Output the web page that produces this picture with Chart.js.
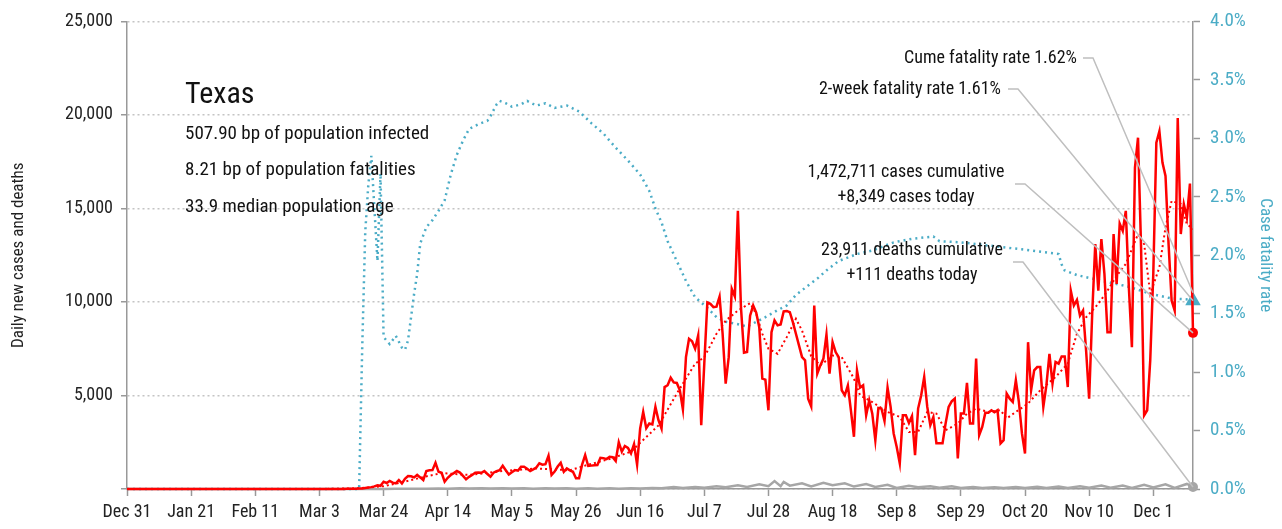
<!DOCTYPE html>
<html>
<head>
<meta charset="utf-8">
<script src="https://cdn.jsdelivr.net/npm/chart.js@4.4.0/dist/chart.umd.min.js"></script>
<style>
  body { margin: 0; background: #fff; }
  #wrap { width: 1282px; height: 529px; }
</style>
</head>
<body>
<div id="wrap"><canvas id="myChart" width="1282" height="529"></canvas></div>
<script>
// x axis is days since Dec 31, one label every 3 weeks
var tickLabels = ["Dec 31", "Jan 21", "Feb 11", "Mar 3", "Mar 24", "Apr 14", "May 5", "May 26",
  "Jun 16", "Jul 7", "Jul 28", "Aug 18", "Sep 8", "Sep 29", "Oct 20", "Nov 10", "Dec 1"]
var tickStep = 21
var lastDay = 349

// daily new cases, day 0 (Dec 31) to day 349
var cases = [
  0, 0, 0, 0, 0, 0, 0, 0, 0, 0, 0, 0, 0, 0, 0, 0,
  0, 0, 0, 0, 0, 0, 0, 0, 0, 0, 0, 0, 0, 0, 0, 0,
  0, 0, 0, 0, 0, 0, 0, 0, 0, 0, 0, 0, 0, 0, 0, 0,
  0, 0, 0, 0, 0, 0, 0, 0, 0, 0, 0, 0, 0, 0, 0, 0,
  1, 0, 1, 1, 2, 3, 2, 5, 7, 10, 15, 20, 25, 30, 55, 75, 100, 140, 200, 170,
  390, 320, 430, 340, 300, 480, 300, 550, 690, 680,
  620, 750, 620, 480, 960, 1000, 1010, 1400, 920, 870,
  390, 600, 750, 850, 960, 880, 700, 520, 650, 750,
  870, 880, 870, 960, 800, 660, 870, 950, 1010, 1240,
  1000, 780, 900, 1010, 980, 1190, 1190, 1080, 960, 1050,
  1150, 1370, 1300, 1330, 1780, 750, 930, 1200, 1400, 920,
  1100, 1000, 920, 570, 570, 1300, 1810, 1230, 1250, 1270,
  1280, 1670, 1650, 1600, 1720, 1700, 1500, 2500, 2000, 2300,
  2200, 1900, 2400, 1300, 3230, 4120, 3250, 3500, 3450, 4390,
  3680, 3230, 5450, 5550, 5950, 5700, 5670, 5280, 4250, 7050,
  8030, 7900, 7500, 8210, 3410, 6700, 9980, 9900, 9720, 9750,
  10290, 8300, 5630, 7050, 10700, 10290, 14870, 9720, 7290, 7330,
  9270, 9810, 9430, 8650, 5900, 5850, 4210, 8380, 9010, 8750,
  8800, 9500, 9520, 9450, 8920, 8300, 7680, 7050, 6880, 4830,
  4420, 9810, 6170, 6610, 6970, 8260, 6170, 7850, 7320, 7050,
  5280, 5010, 5540, 4200, 2790, 6340, 5420, 5540, 3940, 4740,
  4030, 2610, 4330, 4300, 3640, 5420, 4390, 2970, 2250, 1370,
  3940, 3940, 3530, 3900, 1810, 4300, 5000, 5990, 4390, 3410,
  3850, 2440, 2440, 2440, 3500, 4390, 4690, 4830, 1640, 4030,
  4030, 5670, 3500, 3500, 6970, 2880, 3320, 4070, 4070, 4210,
  4100, 4210, 2440, 2610, 5100, 4830, 4650, 5810, 4650, 2970,
  1900, 7850, 5280, 6340, 6520, 6520, 4390, 5540, 7230, 5630,
  6790, 6700, 7090, 7090, 5450, 10600, 9810, 10110, 9270, 9540,
  7410, 4830, 9360, 13100, 10600, 13360, 11500, 8380, 8380, 13630,
  10960, 14190, 13800, 14870, 10780, 7580, 17180, 18780, 12910, 3940,
  4210, 6880, 11500, 18510, 19130, 17450, 16740, 13100, 10070, 9540,
  19840, 13630, 15230, 14510, 16330, 8349
]

// 7-day average of cases, read at these days
var avgDays = [0, 64, 76, 84, 90, 97, 103, 112, 123, 134, 145, 151, 158, 165, 174, 180, 186, 189, 193, 196,
  200, 204, 206, 208, 210, 213, 216, 219, 221, 224, 227, 231, 234, 238, 240, 244, 249, 253, 256, 259,
  262, 265, 268, 272, 275, 278, 282, 286, 288, 291, 295, 299, 304, 308, 311, 314, 318, 321, 324, 327,
  331, 333, 335, 338, 340, 342, 345, 347, 349]
var avgCases = [0, 0, 40, 150, 350, 640, 850, 750, 960, 1100, 1000, 1300, 1600, 2000, 3400, 5100, 6700, 7050, 8300, 9000,
  9540, 9930, 9370, 8300, 7500, 7230, 8120, 9100, 8470, 7100, 6610, 7140, 7050, 5900, 5010, 4650, 4120, 3850, 3050, 3050,
  4120, 4030, 3140, 3500, 4030, 4300, 4120, 4210, 3770, 4120, 4570, 5280, 5990, 6700, 8300, 9180, 9900, 10600, 11400, 12030,
  13630, 13100, 10430, 11850, 13980, 15400, 15230, 14160, 13900]

// case fatality rate (%), right axis
var rateDays = [0, 76, 77, 78, 79, 80, 81, 82, 83, 84, 86, 88, 90, 91, 92, 93, 94, 95, 96, 98,
  100, 102, 104, 106, 108, 110, 112, 115, 118, 119, 121, 122, 124, 126, 129, 131, 134, 137, 140, 144,
  148, 152, 156, 160, 164, 168, 171, 173, 175, 177, 180, 183, 186, 190, 193, 196, 200, 203, 206, 209,
  213, 216, 219, 223, 226, 229, 233, 239, 244, 251, 257, 264, 266, 273, 283, 293, 305, 306, 307, 311,
  321, 328, 335, 342, 348, 349]
var rate = [0, 0, 1.2, 2.2, 2.6, 2.85, 2.4, 1.95, 2.7, 1.3, 1.24, 1.31, 1.21, 1.19, 1.27, 1.47, 1.67, 1.84, 2.1, 2.24,
  2.30, 2.38, 2.47, 2.69, 2.86, 2.98, 3.08, 3.12, 3.15, 3.19, 3.29, 3.32, 3.30, 3.27, 3.29, 3.32, 3.28, 3.30, 3.26, 3.28,
  3.23, 3.13, 3.04, 2.92, 2.81, 2.69, 2.55, 2.40, 2.28, 2.12, 1.95, 1.78, 1.64, 1.55, 1.47, 1.43, 1.41, 1.39, 1.43, 1.47,
  1.53, 1.57, 1.66, 1.74, 1.80, 1.87, 1.95, 2.01, 2.04, 2.11, 2.14, 2.16, 2.12, 2.11, 2.08, 2.05, 2.01, 1.92, 1.87, 1.83,
  1.77, 1.73, 1.67, 1.63, 1.62, 1.61]

// daily deaths, read at these days
var deathDays = [0, 76, 80, 84, 88, 91, 95, 98, 102, 105, 109, 112, 116, 119, 123, 126, 130, 133, 137, 140,
  144, 147, 151, 154, 158, 161, 165, 168, 172, 175, 179, 182, 186, 189, 193, 196, 200, 203, 207, 210,
  212, 214, 215, 217, 221, 224, 228, 231, 235, 238, 242, 245, 249, 252, 256, 259, 263, 266, 270, 273,
  277, 280, 284, 287, 291, 294, 298, 301, 305, 308, 312, 315, 319, 322, 326, 329, 333, 336, 340, 343,
  347, 349]
var deaths = [0, 0, 2, 5, 8, 12, 20, 15, 30, 20, 35, 25, 40, 25, 45, 30, 45, 20, 40, 25,
  35, 20, 35, 15, 40, 20, 45, 25, 50, 40, 100, 50, 110, 70, 150, 90, 200, 110, 250, 150,
  420, 150, 380, 180, 310, 140, 330, 200, 300, 130, 260, 110, 230, 60, 170, 90, 150, 70, 140, 60,
  110, 60, 100, 60, 110, 50, 120, 60, 130, 60, 150, 70, 190, 70, 180, 50, 230, 80, 250, 60,
  270, 111]

var stateName = "Texas"
var stateFacts = ["507.90 bp of population infected", "8.21 bp of population fatalities", "33.9 median population age"]

var red = "#ff0000"
var blue = "#4bacc6"
var grey = "#a6a6a6"
var fam = "'Roboto Condensed', Roboto, sans-serif"

function pts(days, vals) {
  return vals.map(function(v, i) { return {x: days[i], y: v} })
}
function dailyPts(vals) {
  return vals.map(function(v, i) { return {x: i, y: v} })
}
function endOnly(r) {
  return function(ctx) { return ctx.dataIndex === ctx.dataset.data.length - 1 ? r : 0 }
}

var notes = [
  {lines: ["Cume fatality rate 1.62%"], x: 1077, y: 58, align: "right", ds: 2, lead: [1083, 58, 1093, 58], dy: -8},
  {lines: ["2-week fatality rate 1.61%"], x: 1001, y: 89, align: "right", ds: 2, lead: [1008, 89, 1018, 89], dy: 0},
  {lines: ["1,472,711 cases cumulative", "+8,349 cases today"], x: 906, y: 172, align: "center", ds: 0, lead: [1015, 184, 1025, 184], dy: 0},
  {lines: ["23,911 deaths cumulative", "+111 deaths today"], x: 912, y: 250, align: "center", ds: 3, lead: [1013, 262, 1023, 262], dy: 0}
]

var textPlugin = {
  id: "texts",
  afterDatasetsDraw: function(chart) {
    var ctx = chart.ctx
    ctx.save()
    ctx.fillStyle = "#111"
    ctx.textBaseline = "middle"
    ctx.textAlign = "left"
    ctx.font = "30px " + fam
    ctx.fillText(stateName, 185, 95)
    ctx.font = "19px " + fam
    stateFacts.forEach(function(t, i) { ctx.fillText(t, 185, 134 + i * 36.5) })

    notes.forEach(function(n) {
      var meta = chart.getDatasetMeta(n.ds)
      var p = meta.data[meta.data.length - 1]
      ctx.strokeStyle = "#bfbfbf"
      ctx.lineWidth = 1.5
      ctx.beginPath()
      ctx.moveTo(n.lead[0], n.lead[1])
      ctx.lineTo(n.lead[2], n.lead[3])
      ctx.lineTo(p.x, p.y + n.dy)
      ctx.stroke()
      ctx.fillStyle = "#111"
      ctx.font = "18px " + fam
      ctx.textAlign = n.align
      n.lines.forEach(function(t, i) { ctx.fillText(t, n.x, n.y + i * 25) })
    })
    ctx.restore()
  }
}

var chart = new Chart(document.getElementById("myChart").getContext("2d"), {
  type: "line",
  data: {
    datasets: [
      {
        label: "Daily new cases",
        data: dailyPts(cases),
        yAxisID: "y",
        borderColor: red,
        backgroundColor: red,
        borderWidth: 2.5,
        pointRadius: endOnly(5),
        pointBorderWidth: 0,
        pointHoverRadius: 0,
        clip: false
      },
      {
        label: "7-day average",
        data: pts(avgDays, avgCases),
        yAxisID: "y",
        borderColor: red,
        borderWidth: 2,
        borderDash: [2, 3],
        pointRadius: 0
      },
      {
        label: "Case fatality rate",
        data: pts(rateDays, rate),
        yAxisID: "y1",
        borderColor: blue,
        backgroundColor: blue,
        borderWidth: 2.5,
        borderDash: [2, 4],
        pointStyle: "triangle",
        pointRadius: endOnly(9),
        pointBorderWidth: 0,
        clip: false
      },
      {
        label: "Daily deaths",
        data: pts(deathDays, deaths),
        yAxisID: "y",
        borderColor: grey,
        backgroundColor: grey,
        borderWidth: 2.5,
        pointRadius: endOnly(5),
        pointBorderWidth: 0,
        clip: false
      }
    ]
  },
  options: {
    responsive: false,
    animation: false,
    layout: { padding: { top: 20, left: 0, right: 0, bottom: 0 } },
    plugins: { legend: { display: false }, tooltip: { enabled: false } },
    scales: {
      x: {
        type: "linear",
        min: 0,
        max: lastDay,
        afterFit: function(s) { s.height = 40 },
        ticks: {
          stepSize: tickStep,
          includeBounds: false,
          maxRotation: 0,
          autoSkip: false,
          padding: 6,
          color: "#222",
          font: { family: fam, size: 18 },
          callback: function(v) { return v % tickStep === 0 ? tickLabels[v / tickStep] : "" }
        },
        grid: { drawOnChartArea: false, drawTicks: true, tickLength: 7, tickColor: "#999", tickWidth: 1.5 },
        border: { display: true, color: "#999", width: 1.5 }
      },
      y: {
        position: "left",
        min: 0,
        max: 25000,
        afterFit: function(s) { s.width = 127 },
        ticks: {
          stepSize: 5000,
          padding: 8,
          color: "#222",
          font: { family: fam, size: 18 },
          callback: function(v) { return v === 0 ? "" : v.toLocaleString("en-US") }
        },
        grid: { color: "#c4c4c4", lineWidth: 1.5, tickLength: 6, tickColor: "#999", tickWidth: 1.5 },
        border: { display: true, color: "#999", width: 1.5, dash: [2, 3] },
        title: { display: true, text: "Daily new cases and deaths", color: "#222", font: { family: fam, size: 17 }, padding: { top: 9 } }
      },
      y1: {
        position: "right",
        min: 0,
        max: 4,
        afterFit: function(s) { s.width = 89 },
        ticks: {
          stepSize: 0.5,
          padding: 10,
          color: blue,
          font: { family: fam, size: 19 },
          callback: function(v) { return v.toFixed(1) + "%" }
        },
        grid: { drawOnChartArea: false, tickLength: 7, tickColor: "#999", tickWidth: 1.5 },
        border: { display: true, color: "#999", width: 1.5 },
        title: { display: true, text: "Case fatality rate", color: blue, font: { family: fam, size: 17 }, padding: { top: 7 } }
      }
    }
  },
  plugins: [textPlugin]
})
</script>
</body>
</html>
